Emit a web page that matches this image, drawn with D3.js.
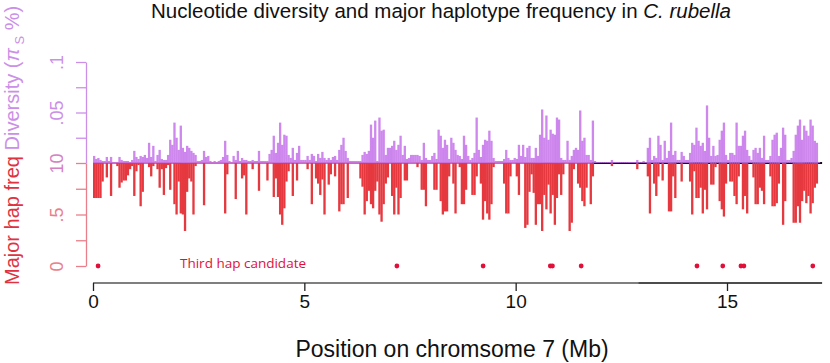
<!DOCTYPE html>
<html>
<head>
<meta charset="utf-8">
<script src="https://cdn.jsdelivr.net/npm/d3@7/dist/d3.min.js"></script>
<style>
  body { margin: 0; background: #fff; }
  text { font-family: "Liberation Sans", Arial, Helvetica, sans-serif; }
</style>
</head>
<body>
<div id="chart"></div>
<script>
// windows along chromosome 7, 50 kb each, starting at 0 Mb
var windowStartMb = 0, windowSizeMb = 0.05;

// major haplotype frequency per window (percent)
var majorHapFreq = [
  66,66,66,66,82,100,86,100,68,100,
  100,97,76,81,83,83,88,94,97,68,
  92,98,58,72,100,100,96,87,97,100,
  94,76,94,69,95,98,74,100,60,50,
  82,51,50,34,72,85,82,50,97,100,
  100,100,59,100,100,100,100,100,100,100,
  100,100,51,89,100,100,100,65,100,100,
  85,88,50,100,100,94,100,100,73,100,
  100,100,83,100,100,67,85,67,50,40,
  56,82,92,100,68,100,83,100,100,100,
  100,94,100,60,100,85,80,69,84,50,
  100,79,89,100,87,100,53,60,60,100,
  66,100,100,100,100,100,85,77,50,63,
  73,60,56,73,82,50,43,60,80,86,
  100,68,50,76,50,66,100,83,83,100,
  100,100,100,96,100,74,74,58,100,100,
  100,74,74,100,63,50,53,53,87,100,
  80,51,100,96,60,60,74,100,100,69,
  69,87,100,80,45,63,51,45,60,96,
  100,100,100,100,80,51,51,87,100,100,
  87,69,100,100,37,40,72,89,71,40,
  60,60,34,69,55,79,51,69,40,66,
  89,69,89,100,100,34,42,94,100,80,
  76,63,58,76,100,60,87,100,100,100,
  100,100,100,100,100,97,100,100,100,100,
  100,100,100,100,100,100,100,94,100,100,
  100,100,87,51,100,80,68,87,100,83,
  100,100,53,53,87,66,100,100,82,100,
  100,100,82,50,92,66,66,76,51,74,
  55,100,79,79,96,100,63,55,48,80,
  100,82,82,68,60,87,100,55,68,51,
  100,100,86,60,60,76,73,60,100,100,
  87,58,58,61,80,100,40,63,100,100,
  100,42,42,58,42,63,73,61,68,51,
  61,76,80,100,100
];

// nucleotide diversity per window (in units of 0.001)
var diversity = [
  7,4,5,3,2,2,6,2,6,1,
  1,1,6,3,2,2,2,1,3,12,
  6,4,7,6,8,5,20,6,17,2,
  8,13,4,3,3,8,23,18,40,25,
  13,37,15,11,17,15,12,10,8,2,
  2,3,12,6,7,2,1,2,1,2,
  3,6,22,8,2,1,7,3,12,2,
  5,3,3,2,2,3,2,2,12,2,
  2,2,2,9,13,27,10,20,40,18,
  28,27,8,5,15,3,10,17,3,3,
  3,7,3,9,7,2,9,5,11,5,
  3,5,3,6,7,3,13,18,25,12,
  5,2,2,2,2,2,2,8,11,9,
  12,38,25,42,2,45,32,33,8,15,
  15,17,22,13,18,27,8,17,4,5,
  8,8,8,8,7,3,20,5,3,3,
  7,10,4,33,27,15,23,18,4,25,
  20,13,8,7,4,27,18,7,3,5,
  10,45,13,6,18,23,22,32,22,5,
  2,2,2,2,4,13,5,3,3,5,
  4,18,7,18,6,15,17,5,5,15,
  7,28,53,25,47,23,33,29,28,45,
  43,5,3,3,22,3,7,13,15,13,
  52,22,25,8,8,3,42,2,1,1,
  1,1,1,1,1,3,1,1,1,1,
  1,1,1,1,1,1,1,3,1,1,
  2,1,15,25,3,7,5,27,18,3,
  22,5,12,40,8,12,3,3,11,7,
  3,3,10,20,18,35,22,17,20,12,
  57,25,7,17,7,8,23,32,40,8,
  3,10,10,8,40,17,17,27,32,13,
  7,3,13,15,10,15,5,27,3,3,
  7,23,28,30,7,15,35,28,3,3,
  5,12,28,37,43,23,37,32,27,43,
  37,22,20,1,0
];

// third haplotype candidate positions (Mb)
var thirdHapPos = [0.12, 7.19, 9.23, 10.82, 10.87, 11.55, 14.29, 14.9, 15.33, 15.4, 17.03];

var xTicks = [0, 5, 10, 15];
var divTicks = [25, 50, 75, 100];
var divTickLabels = ["", ".05", "", ".1"];
var freqTicks = [0, 25, 50, 75, 100];
var freqTickLabels = ["0", "", ".5", "", "10"];

var width = 830, height = 363;
var red = "#e5383f", purple = "#c472ea", axisPurple = "#cc8fe8", axisPink = "#ea7f8c";

var svg = d3.select("#chart").append("svg")
    .attr("width", width)
    .attr("height", height);

var xScale = d3.scaleLinear().domain([0, 15]).range([93, 727]);
var divY = d3.scaleLinear().domain([0, 100]).range([163, 62]);
var freqY = d3.scaleLinear().domain([0, 100]).range([266, 163]);
var xEnd = 17.25;
var barW = xScale(windowSizeMb) - xScale(0);

// title
var title = svg.append("text")
    .attr("x", 441).attr("y", 18)
    .attr("text-anchor", "middle")
    .style("font-size", "20.5px")
    .attr("fill", "#111");
title.append("tspan").text("Nucleotide diversity and major haplotype frequency in ");
title.append("tspan").style("font-style", "italic").text("C. rubella");

// baseline
svg.append("line")
    .attr("x1", xScale(0)).attr("x2", xScale(11.8))
    .attr("y1", divY(0)).attr("y2", divY(0))
    .attr("stroke", red).attr("stroke-width", 1.5);
svg.append("line")
    .attr("x1", xScale(11.8)).attr("x2", xScale(xEnd))
    .attr("y1", divY(0)).attr("y2", divY(0))
    .attr("stroke", "#111").attr("stroke-width", 2);

// diversity bars (up)
svg.append("g").selectAll("rect")
    .data(diversity)
    .enter().append("rect")
    .attr("x", function (d, i) { return xScale(windowStartMb + i * windowSizeMb); })
    .attr("y", function (d) { return divY(d); })
    .attr("width", barW + 0.2)
    .attr("height", function (d) { return divY(0) - divY(d); })
    .attr("fill", purple)
    .attr("opacity", 0.85);

// major haplotype frequency bars (down from 1.0)
svg.append("g").selectAll("rect")
    .data(majorHapFreq)
    .enter().append("rect")
    .attr("x", function (d, i) { return xScale(windowStartMb + i * windowSizeMb); })
    .attr("y", freqY(100))
    .attr("width", barW + 0.2)
    .attr("height", function (d) { return freqY(d) - freqY(100); })
    .attr("fill", red);

// y axes
var divAxis = svg.append("g")
    .attr("transform", "translate(86,0)")
    .call(d3.axisLeft(divY).tickValues(divTicks).tickSize(10).tickSizeOuter(0)
        .tickFormat(function (d, i) { return divTickLabels[i]; }));
var freqAxis = svg.append("g")
    .attr("transform", "translate(86,0)")
    .call(d3.axisLeft(freqY).tickValues(freqTicks).tickSize(10).tickSizeOuter(0)
        .tickFormat(function (d, i) { return freqTickLabels[i]; }));

[[divAxis, axisPurple], [freqAxis, axisPink]].forEach(function (p) {
    var g = p[0], c = p[1];
    g.select(".domain").attr("stroke", c).attr("stroke-width", 1.3);
    g.selectAll(".tick line").attr("stroke", c).attr("stroke-width", 1.3);
    g.selectAll(".tick text")
        .attr("fill", c)
        .attr("x", null).attr("dy", null)
        .attr("text-anchor", "middle")
        .attr("transform", "translate(-23,0) rotate(-90)")
        .style("font-size", "18px")
        .style("font-family", "Liberation Sans, Arial, sans-serif");
});
freqAxis.selectAll(".tick text").filter(function (d) { return d === 100; }).attr("fill", "#d57fc4");

// y label
var ylab = svg.append("text")
    .attr("transform", "translate(19,285) rotate(-90)")
    .style("font-size", "20px");
ylab.append("tspan").attr("fill", "#e0323f").text("Major hap freq ");
ylab.append("tspan").attr("fill", axisPurple).text("Diversity (");
ylab.append("tspan").attr("fill", axisPurple).style("font-style", "italic").text("\u03c0");
ylab.append("tspan").attr("fill", axisPurple).attr("dy", 5).style("font-size", "13px").text(" S");
ylab.append("tspan").attr("fill", axisPurple).attr("dy", -5).text(" %)");

// third haplotype candidates
svg.append("g").selectAll("circle")
    .data(thirdHapPos)
    .enter().append("circle")
    .attr("cx", function (d) { return xScale(d); })
    .attr("cy", freqY(0))
    .attr("r", 2.4)
    .attr("fill", "#e0103a");
svg.append("text")
    .attr("x", 180).attr("y", 268)
    .attr("fill", "#e0103a")
    .style("font-family", "Open Sans, sans-serif")
    .style("font-size", "13.5px")
    .text("Third hap candidate");

// x axis
var xAxisY = 283;
svg.append("line")
    .attr("x1", xScale(0)).attr("x2", xScale(12.9))
    .attr("y1", xAxisY).attr("y2", xAxisY)
    .attr("stroke", "#555").attr("stroke-width", 1.3);
svg.append("line")
    .attr("x1", xScale(12.9)).attr("x2", xScale(xEnd))
    .attr("y1", xAxisY).attr("y2", xAxisY)
    .attr("stroke", "#111").attr("stroke-width", 1.3);
var xAxis = svg.append("g")
    .attr("transform", "translate(0," + xAxisY + ")")
    .call(d3.axisBottom(xScale).tickValues(xTicks).tickSize(8).tickSizeOuter(0).tickPadding(4));
xAxis.select(".domain").remove();
xAxis.selectAll(".tick line").attr("stroke", "#222").attr("stroke-width", 1.3);
xAxis.selectAll(".tick text").attr("fill", "#111")
    .style("font-size", "19px")
    .style("font-family", "Liberation Sans, Arial, sans-serif");

svg.append("text")
    .attr("x", 452).attr("y", 357)
    .attr("text-anchor", "middle")
    .attr("fill", "#111")
    .style("font-size", "23px")
    .text("Position on chromsome 7 (Mb)");
</script>
</body>
</html>
